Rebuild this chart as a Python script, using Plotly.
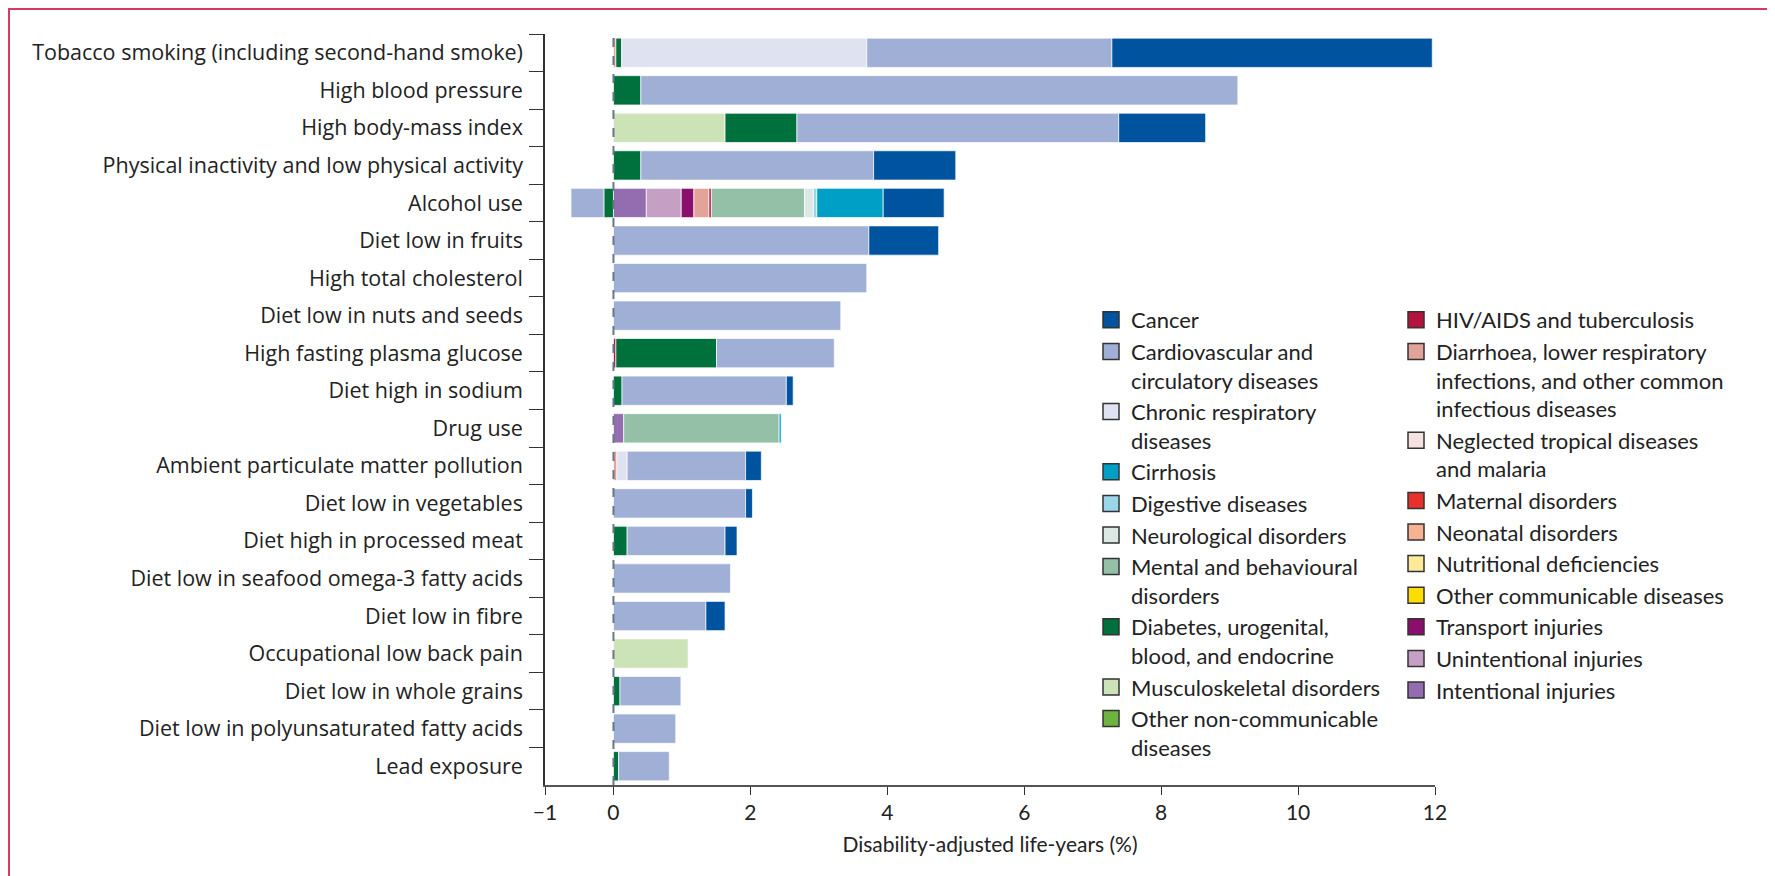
import plotly.graph_objects as go

# risk factors, top to bottom
risks = [
    'Tobacco smoking (including second-hand smoke)', 'High blood pressure',
    'High body-mass index', 'Physical inactivity and low physical activity',
    'Alcohol use', 'Diet low in fruits', 'High total cholesterol',
    'Diet low in nuts and seeds', 'High fasting plasma glucose',
    'Diet high in sodium', 'Drug use', 'Ambient particulate matter pollution',
    'Diet low in vegetables', 'Diet high in processed meat',
    'Diet low in seafood omega-3 fatty acids', 'Diet low in fibre',
    'Occupational low back pain', 'Diet low in whole grains',
    'Diet low in polyunsaturated fatty acids', 'Lead exposure',
]

# DALYs (%) attributable, by cause
intentional = [0, 0, 0, 0, 0.48, 0, 0, 0, 0, 0, 0.15, 0, 0, 0, 0, 0, 0, 0, 0, 0]
unintentional = [0, 0, 0, 0, 0.51, 0, 0, 0, 0, 0, 0, 0, 0, 0, 0, 0, 0, 0, 0, 0]
transport = [0, 0, 0, 0, 0.185, 0, 0, 0, 0, 0, 0, 0, 0, 0, 0, 0, 0, 0, 0, 0]
diarrhoea_lri = [0.035, 0, 0, 0, 0.22, 0, 0, 0, 0, 0, 0, 0.05, 0, 0, 0, 0, 0, 0, 0, 0]
hiv_tb = [0, 0, 0, 0, 0.035, 0, 0, 0, 0.035, 0, 0, 0, 0, 0, 0, 0, 0, 0, 0, 0]
musculoskeletal = [0, 0, 1.63, 0, 0, 0, 0, 0, 0, 0, 0, 0, 0, 0, 0, 0, 1.09, 0, 0, 0]
diabetes = [0.085, 0.40, 1.05, 0.40, -0.14, 0, 0, 0, 1.47, 0.125, 0, 0, 0, 0.20, 0, 0, 0, 0.095, 0, 0.075]
mental = [0, 0, 0, 0, 1.36, 0, 0, 0, 0, 0, 2.27, 0, 0, 0, 0, 0, 0, 0, 0, 0]
neurological = [0, 0, 0, 0, 0.13, 0, 0, 0, 0, 0, 0, 0, 0, 0, 0, 0, 0, 0, 0, 0]
chronic_resp = [3.58, 0, 0, 0, 0, 0, 0, 0, 0, 0, 0, 0.15, 0, 0, 0, 0, 0, 0, 0, 0]
digestive = [0, 0, 0, 0, 0.05, 0, 0, 0, 0, 0, 0, 0, 0, 0, 0, 0, 0, 0, 0, 0]
cirrhosis = [0, 0, 0, 0, 0.97, 0, 0, 0, 0, 0, 0.03, 0, 0, 0, 0, 0, 0, 0, 0, 0]
cardiovascular = [3.58, 8.72, 4.70, 3.40, -0.48, 3.73, 3.70, 3.32, 1.72, 2.40, 0, 1.73, 1.93, 1.43, 1.71, 1.35, 0, 0.89, 0.91, 0.74]
cancer = [4.68, 0, 1.27, 1.20, 0.89, 1.02, 0, 0, 0, 0.10, 0, 0.23, 0.10, 0.175, 0, 0.28, 0, 0, 0, 0]

# stacking order, from zero outwards
stack = [
    ('Intentional injuries', intentional, '#946CB0'),
    ('Unintentional injuries', unintentional, '#C6A0C4'),
    ('Transport injuries', transport, '#8A0E6C'),
    ('Diarrhoea/LRI', diarrhoea_lri, '#E3A399'),
    ('HIV/AIDS and tuberculosis', hiv_tb, '#B5123E'),
    ('Musculoskeletal disorders', musculoskeletal, '#CCE2B7'),
    ('Diabetes', diabetes, '#00703C'),
    ('Mental', mental, '#93C0A6'),
    ('Neurological', neurological, '#DBE8E3'),
    ('Chronic respiratory', chronic_resp, '#DFE3F1'),
    ('Digestive', digestive, '#9AD5E8'),
    ('Cirrhosis', cirrhosis, '#00A0C6'),
    ('Cardiovascular', cardiovascular, '#A0AFD6'),
    ('Cancer', cancer, '#00539F'),
]

legend_left = [
    ('Cancer', '#00539F'),
    ('Cardiovascular and<br>circulatory diseases', '#A0AFD6'),
    ('Chronic respiratory<br>diseases', '#DFE3F1'),
    ('Cirrhosis', '#00A0C6'),
    ('Digestive diseases', '#9AD5E8'),
    ('Neurological disorders', '#DBE8E3'),
    ('Mental and behavioural<br>disorders', '#93C0A6'),
    ('Diabetes, urogenital,<br>blood, and endocrine', '#00703C'),
    ('Musculoskeletal disorders', '#CCE2B7'),
    ('Other non-communicable<br>diseases', '#6DB33F'),
]
legend_right = [
    ('HIV/AIDS and tuberculosis', '#B5123E'),
    ('Diarrhoea, lower respiratory<br>infections, and other common<br>infectious diseases', '#E3A399'),
    ('Neglected tropical diseases<br>and malaria', '#F6E1E1'),
    ('Maternal disorders', '#E8312A'),
    ('Neonatal disorders', '#F7B294'),
    ('Nutritional deficiencies', '#FDE99A'),
    ('Other communicable diseases', '#FFDD00'),
    ('Transport injuries', '#8A0E6C'),
    ('Unintentional injuries', '#C6A0C4'),
    ('Intentional injuries', '#946CB0'),
]

W, H = 1775, 876
ML, MR, MT, MB = 537, 348, 26, 99

fig = go.Figure()
for name, vals, color in stack:
    fig.add_trace(go.Bar(
        x=[v if v else None for v in vals], y=risks, orientation='h',
        name=name, showlegend=False, width=0.78,
        marker=dict(color=color, line=dict(color='rgba(255,255,255,0.7)', width=1)),
    ))

for leg, items in (('legend', legend_left), ('legend2', legend_right)):
    for name, color in items:
        fig.add_trace(go.Scatter(
            x=[None], y=[None], mode='markers', name=name, legend=leg,
            marker=dict(symbol='square', size=16, color=color,
                        line=dict(color='#333333', width=1.5)),
        ))

pw, ph = W - ML - MR, H - MT - MB
legend_style = dict(traceorder='normal', valign='top', bgcolor='rgba(0,0,0,0)',
                    font=dict(family='Lato', size=22, color='#222222'),
                    xanchor='left', yanchor='top', itemsizing='trace')
fig.update_layout(
    width=W, height=H, barmode='relative',
    margin=dict(l=ML, r=MR, t=MT, b=MB),
    paper_bgcolor='white', plot_bgcolor='white',
    font=dict(family='Open Sans', color='#222222'),
    legend=dict(x=(1083 - ML) / pw, y=1 - (291 - MT) / ph, **legend_style),
    legend2=dict(x=(1388 - ML) / pw, y=1 - (291 - MT) / ph, **legend_style),
    xaxis=dict(range=[-1, 12], tickvals=[-1, 0, 2, 4, 6, 8, 10, 12],
               showgrid=False, zeroline=False, showline=True, linecolor='#555555',
               linewidth=2, ticks='outside', ticklen=8, tickcolor='#333333',
               tickfont=dict(family='Lato', size=21),
               title=dict(text='Disability-adjusted life-years (%)',
                          font=dict(family='Lato', size=21), standoff=14)),
    yaxis=dict(autorange='reversed', showgrid=False, zeroline=False, showline=True,
               linecolor='#333333', linewidth=1.5, ticks='outside', ticklen=14,
               tickcolor='#333333', tickson='boundaries', ticklabelstandoff=16,
               tickfont=dict(size=21.5)),
    shapes=[
        dict(type='line', xref='x', yref='paper', x0=0, x1=0, y0=0, y1=1,
             line=dict(color='#687888', width=2, dash='dash'), layer='above'),
        dict(type='rect', xref='paper', yref='paper',
             x0=(1 - ML) / pw, x1=(1766 - ML) / pw,
             y0=1 - (890 - MT) / ph, y1=1 + (MT - 1) / ph,
             line=dict(color='#D23C62', width=2)),
    ],
)

fig.write_html('out.html')
